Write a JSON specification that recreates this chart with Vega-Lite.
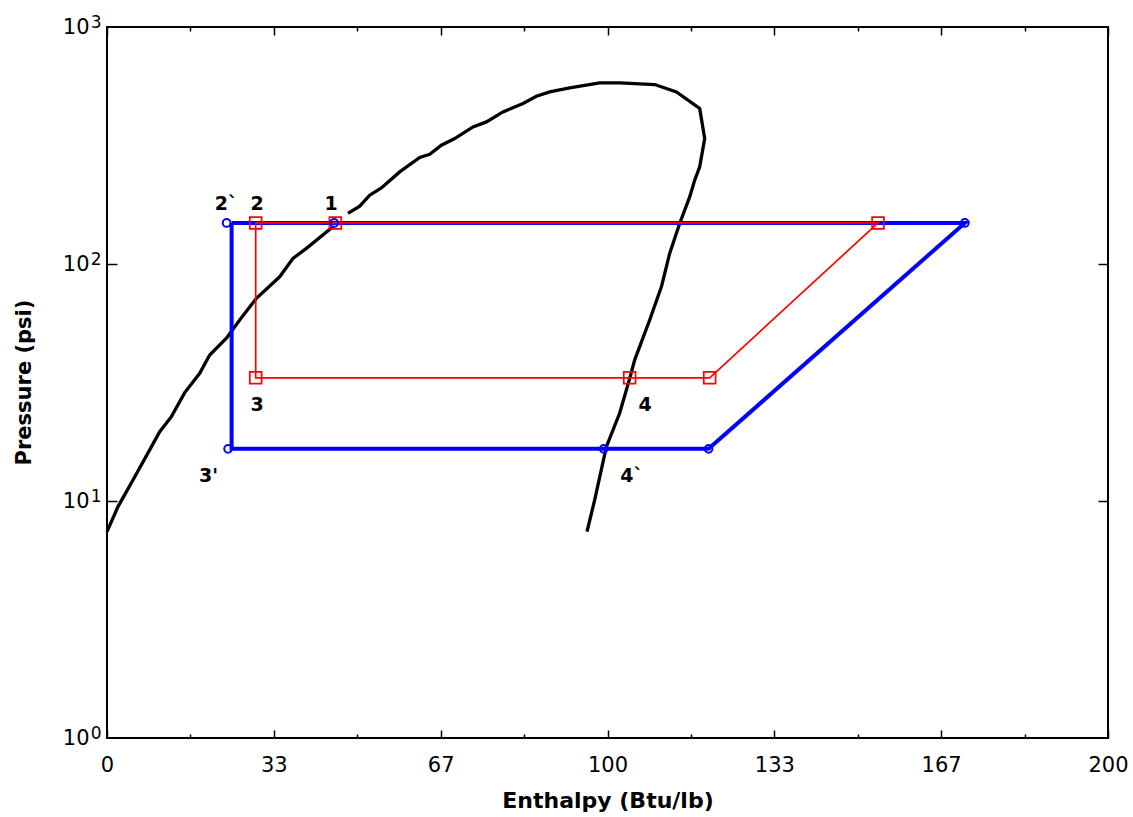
{
  "$schema": "https://vega.github.io/schema/vega-lite/v6.json",
  "width": 1001,
  "height": 711,
  "autosize": "none",
  "padding": {"left": 107, "top": 27, "right": 25, "bottom": 79},
  "background": "white",
  "view": {"stroke": "black", "strokeWidth": 2},
  "config": {
    "font": "DejaVu Sans",
    "axis": {"domain": false, "grid": false, "labelColor": "black", "tickColor": "black", "titleColor": "black"}
  },
  "datasets": {
    "curve": [
      {"i": 0, "seg": "a", "h": 0, "p": 7.43},
      {"i": 1, "seg": "a", "h": 2.2, "p": 9.47},
      {"i": 2, "seg": "a", "h": 5.19, "p": 12.27},
      {"i": 3, "seg": "a", "h": 8.53, "p": 16.43},
      {"i": 4, "seg": "a", "h": 10.53, "p": 19.62},
      {"i": 5, "seg": "a", "h": 12.87, "p": 22.69},
      {"i": 6, "seg": "a", "h": 15.5, "p": 28.6},
      {"i": 7, "seg": "a", "h": 18.52, "p": 34.58},
      {"i": 8, "seg": "a", "h": 20.52, "p": 41.3},
      {"i": 9, "seg": "a", "h": 23.86, "p": 48.6},
      {"i": 10, "seg": "a", "h": 26.51, "p": 58.0},
      {"i": 11, "seg": "a", "h": 29.85, "p": 71.6},
      {"i": 12, "seg": "a", "h": 34.5, "p": 88.3},
      {"i": 13, "seg": "a", "h": 37.16, "p": 105.6},
      {"i": 14, "seg": "a", "h": 39.84, "p": 116.4},
      {"i": 15, "seg": "a", "h": 45.15, "p": 143.5},
      {"i": 16, "seg": "b", "h": 48.15, "p": 163.5},
      {"i": 17, "seg": "b", "h": 50.49, "p": 175.5},
      {"i": 18, "seg": "b", "h": 52.49, "p": 195.2},
      {"i": 19, "seg": "b", "h": 54.82, "p": 209.5},
      {"i": 20, "seg": "b", "h": 58.48, "p": 244.7},
      {"i": 21, "seg": "b", "h": 62.48, "p": 281.4},
      {"i": 22, "seg": "b", "h": 64.48, "p": 290.6},
      {"i": 23, "seg": "b", "h": 66.81, "p": 317.1},
      {"i": 24, "seg": "b", "h": 69.47, "p": 338.4},
      {"i": 25, "seg": "b", "h": 73.13, "p": 378.8},
      {"i": 26, "seg": "b", "h": 75.8, "p": 397.7},
      {"i": 27, "seg": "b", "h": 79.12, "p": 438.2},
      {"i": 28, "seg": "b", "h": 83.12, "p": 475.5},
      {"i": 29, "seg": "b", "h": 85.79, "p": 510.6},
      {"i": 30, "seg": "b", "h": 88.45, "p": 532.2},
      {"i": 31, "seg": "b", "h": 92.45, "p": 553.2},
      {"i": 32, "seg": "b", "h": 98.44, "p": 580.7},
      {"i": 33, "seg": "b", "h": 102.44, "p": 580.7},
      {"i": 34, "seg": "b", "h": 109.43, "p": 571.8},
      {"i": 35, "seg": "b", "h": 113.77, "p": 532.2},
      {"i": 36, "seg": "b", "h": 118.42, "p": 452.9},
      {"i": 37, "seg": "b", "h": 119.42, "p": 338.4},
      {"i": 38, "seg": "b", "h": 118.42, "p": 256.9},
      {"i": 39, "seg": "b", "h": 117.42, "p": 225.8},
      {"i": 40, "seg": "b", "h": 116.42, "p": 192.0},
      {"i": 41, "seg": "b", "h": 114.42, "p": 148.3},
      {"i": 42, "seg": "b", "h": 112.42, "p": 110.8},
      {"i": 43, "seg": "b", "h": 110.77, "p": 80.1},
      {"i": 44, "seg": "b", "h": 108.43, "p": 58.0},
      {"i": 45, "seg": "b", "h": 105.44, "p": 39.4},
      {"i": 46, "seg": "b", "h": 104.44, "p": 32.9},
      {"i": 47, "seg": "b", "h": 102.44, "p": 23.5},
      {"i": 48, "seg": "b", "h": 99.78, "p": 16.96},
      {"i": 49, "seg": "b", "h": 97.44, "p": 10.1},
      {"i": 50, "seg": "b", "h": 95.9, "p": 7.43}
    ],
    "blue": [
      {"i": 0, "h": 24.9, "p": 149},
      {"i": 1, "h": 171.4, "p": 149},
      {"i": 2, "h": 120.2, "p": 16.6},
      {"i": 3, "h": 24.9, "p": 16.6},
      {"i": 4, "h": 24.9, "p": 149}
    ],
    "red": [
      {"i": 0, "h": 29.71, "p": 149},
      {"i": 1, "h": 154.05, "p": 149},
      {"i": 2, "h": 120.42, "p": 33.1},
      {"i": 3, "h": 29.71, "p": 33.1},
      {"i": 4, "h": 29.71, "p": 149}
    ],
    "redpts": [
      {"h": 29.71, "p": 149},
      {"h": 45.63, "p": 149},
      {"h": 154.05, "p": 149},
      {"h": 29.71, "p": 33.1},
      {"h": 104.43, "p": 33.1},
      {"h": 120.42, "p": 33.1}
    ],
    "bluepts": [
      {"h": 23.9, "p": 149},
      {"h": 45.4, "p": 149},
      {"h": 171.4, "p": 149},
      {"h": 24.2, "p": 16.6},
      {"h": 99.24, "p": 16.6},
      {"h": 120.2, "p": 16.6}
    ],
    "labels": [
      {"t": "2`", "h": 23.8, "p": 178.9},
      {"t": "2", "h": 30.0, "p": 178.9},
      {"t": "1", "h": 44.8, "p": 178.9},
      {"t": "3", "h": 30.0, "p": 25.4},
      {"t": "4", "h": 107.5, "p": 25.4},
      {"t": "3'", "h": 20.3, "p": 12.76},
      {"t": "4`", "h": 104.8, "p": 12.76}
    ]
  },
  "resolve": {"axis": {"x": "independent", "y": "independent"}},
  "layer": [
    {
      "data": {"name": "curve"},
      "mark": {"type": "line", "color": "black", "strokeWidth": 3.3},
      "encoding": {
        "x": {"field": "h", "type": "quantitative", "scale": {"domain": [0, 200], "nice": false, "zero": false},
          "axis": {"orient": "bottom", "values": [0, 33.3333, 66.6667, 100, 133.3333, 166.6667, 200], "format": ".0f", "ticks": false,
            "labelFontSize": 21, "labelPadding": 16, "labelFlush": false,
            "title": "Enthalpy (Btu/lb)", "titleFontSize": 22, "titleFontWeight": "bold", "titleBaseline": "alphabetic", "titleY": 69}},
        "y": {"field": "p", "type": "quantitative", "scale": {"type": "log", "domain": [1, 1000], "nice": false},
          "axis": {"orient": "left", "values": [1, 10, 100, 1000], "ticks": false, "labelFontSize": 21, "labelPadding": 18, "labelFlush": false,
            "labelExpr": "'10'",
            "title": "Pressure (psi)", "titleFontSize": 21, "titleFontWeight": "bold", "titleBaseline": "alphabetic", "titleX": -77, "titleY": 355}},
        "detail": {"field": "seg"},
        "order": {"field": "i", "type": "quantitative"}
      }
    },
    {
      "data": {"name": "blue"},
      "mark": {"type": "line", "color": "#0000FF", "strokeWidth": 4},
      "encoding": {
        "x": {"field": "h", "type": "quantitative", "scale": {"domain": [0, 200], "nice": false, "zero": false},
          "axis": {"orient": "bottom", "values": [0, 33.3333, 66.6667, 100, 133.3333, 166.6667, 200], "labels": false, "tickSize": -8, "tickWidth": 1.5, "title": null}},
        "y": {"field": "p", "type": "quantitative", "scale": {"type": "log", "domain": [1, 1000], "nice": false},
          "axis": {"orient": "left", "values": [10, 100], "labels": false, "tickSize": -10, "tickWidth": 1.5, "title": null}},
        "order": {"field": "i", "type": "quantitative"}
      }
    },
    {
      "data": {"name": "red"},
      "mark": {"type": "line", "color": "#FF0000", "strokeWidth": 1.7},
      "encoding": {
        "x": {"field": "h", "type": "quantitative", "scale": {"domain": [0, 200], "nice": false, "zero": false},
          "axis": {"orient": "bottom", "values": [16.6667, 50, 83.3333, 116.6667, 150, 183.3333], "labels": false, "tickSize": -4, "tickWidth": 1.5, "title": null}},
        "y": {"field": "p", "type": "quantitative", "scale": {"type": "log", "domain": [1, 1000], "nice": false},
          "axis": {"orient": "right", "values": [10, 100], "labels": false, "tickSize": -10, "tickWidth": 1.5, "title": null}},
        "order": {"field": "i", "type": "quantitative"}
      }
    },
    {
      "data": {"name": "redpts"},
      "mark": {"type": "square", "color": "#FF0000", "filled": false, "size": 140, "strokeWidth": 1.7, "opacity": 1},
      "encoding": {
        "x": {"field": "h", "type": "quantitative", "scale": {"domain": [0, 200], "nice": false, "zero": false},
          "axis": {"orient": "top", "values": [0, 33.3333, 66.6667, 100, 133.3333, 166.6667, 200], "labels": false, "tickSize": -8, "tickWidth": 1.5, "title": null}},
        "y": {"field": "p", "type": "quantitative", "scale": {"type": "log", "domain": [1, 1000], "nice": false}, "axis": null}
      }
    },
    {
      "data": {"name": "bluepts"},
      "mark": {"type": "point", "shape": "circle", "color": "#0000FF", "filled": false, "size": 60, "strokeWidth": 2, "opacity": 1},
      "encoding": {
        "x": {"field": "h", "type": "quantitative", "scale": {"domain": [0, 200], "nice": false, "zero": false},
          "axis": {"orient": "top", "values": [16.6667, 50, 83.3333, 116.6667, 150, 183.3333], "labels": false, "tickSize": -4, "tickWidth": 1.5, "title": null}},
        "y": {"field": "p", "type": "quantitative", "scale": {"type": "log", "domain": [1, 1000], "nice": false}, "axis": null}
      }
    },
    {
      "data": {"name": "labels"},
      "mark": {"type": "text", "font": "DejaVu Sans", "fontWeight": "bold", "fontSize": 19, "color": "black", "align": "center", "baseline": "middle"},
      "encoding": {
        "x": {"field": "h", "type": "quantitative", "scale": {"domain": [0, 200], "nice": false, "zero": false}, "axis": null},
        "y": {"field": "p", "type": "quantitative", "scale": {"type": "log", "domain": [1, 1000], "nice": false},
          "axis": {"orient": "left", "values": [1, 10, 100, 1000], "ticks": false, "labelFontSize": 17, "labelPadding": 6, "labelBaseline": "alphabetic", "labelDy": -1, "labelFlush": false,
            "labelExpr": "format(log(datum.value) / LN10, '.0f')", "title": null}},
        "text": {"field": "t"}
      }
    }
  ]
}
